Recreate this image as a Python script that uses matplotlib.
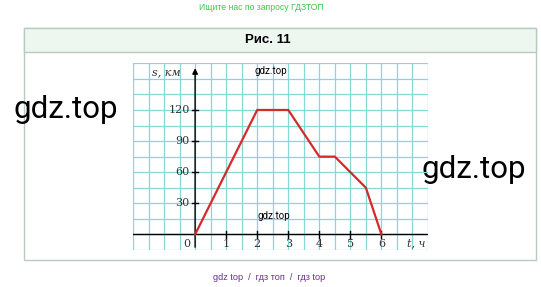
import matplotlib
matplotlib.use("Agg")
import matplotlib.pyplot as plt
from matplotlib.patches import Rectangle
import numpy as np

# ---------- data ----------
t_hours = [0, 2, 3, 4, 4.5, 5.5, 6]
s_km = [0, 120, 120, 75, 75, 45, 0]
x_ticks = [1, 2, 3, 4, 5, 6]
y_ticks = [30, 60, 90, 120]

W, H = 541, 287
fig = plt.figure(figsize=(W / 100, H / 100), dpi=100)

# background layer in pixel coords (y down)
bg = fig.add_axes([0, 0, 1, 1])
bg.set_xlim(0, W)
bg.set_ylim(H, 0)
bg.axis("off")

bg.add_patch(Rectangle((24, 28), 512, 232, facecolor="white", edgecolor="#b9cabf", lw=1))
bg.add_patch(Rectangle((24, 28), 512, 24, facecolor="#eef6f0", edgecolor="#b9cabf", lw=1))
bg.text(268, 40, "Рис. 11", ha="center", va="center", fontsize=9.5, fontweight="bold",
        family="Liberation Sans")
bg.text(261, 7, "Ищите нас по запросу ГДЗТОП", ha="center", va="center", fontsize=6.2,
        color="#3cc84a", family="Liberation Sans")
bg.text(269, 277, "gdz top  /  гдз топ  /  гдз top", ha="center", va="center", fontsize=6.6,
        color="#6a2c8c", family="Liberation Sans")
bg.text(66, 110, "gdz.top", ha="center", va="center", fontsize=22.5, family="Roboto")
bg.text(474, 169, "gdz.top", ha="center", va="center", fontsize=22.5, family="Roboto")

# chart area
x0, x1, y0, y1 = -2, 7.5, -15, 165
px_l, px_r, px_t, px_b = 133, 428, 63.3, 250
ax = fig.add_axes([px_l / W, (H - px_b) / H, (px_r - px_l) / W, (px_b - px_t) / H])
ax.set_xlim(x0, x1)
ax.set_ylim(y0, y1)
ax.axis("off")

grid_c = "#86d8d8"
for gx in np.arange(x0, x1 + 0.01, 0.5):
    ax.axvline(gx, color=grid_c, lw=0.9, zorder=1)
for gy in np.arange(y0, y1 + 0.01, 15):
    ax.axhline(gy, color=grid_c, lw=0.9, zorder=1)

# axes
ax.plot([x0, x1], [0, 0], color="black", lw=1, zorder=3)
ax.annotate("", xy=(0, 163), xytext=(0, y0),
            arrowprops=dict(arrowstyle="-|>", color="black", lw=1, mutation_scale=8), zorder=3)
for xt in x_ticks:
    ax.plot([xt, xt], [-3.5, 3.5], color="black", lw=1, zorder=3)
    ax.text(xt, -4, str(xt), ha="center", va="top", fontsize=8, family="DejaVu Serif",
            color="#333333")
for yt in y_ticks:
    ax.plot([-0.1, 0.1], [yt, yt], color="black", lw=1, zorder=3)
    ax.text(-0.17, yt, str(yt), ha="right", va="center", fontsize=8, family="DejaVu Serif",
            color="#333333")
ax.text(-0.15, -4, "0", ha="right", va="top", fontsize=8, family="DejaVu Serif", color="#333333")
ax.text(-0.47, 156, "s, км", ha="right", va="center", fontsize=8, family="DejaVu Serif",
        style="italic", color="#333333")
ax.text(7.4, -4, "t, ч", ha="right", va="top", fontsize=8, family="DejaVu Serif",
        style="italic", color="#333333")

ax.plot(t_hours, s_km, color="#d42a2a", lw=1.6, zorder=4)

ax.text(2.45, 158, "gdz.top", ha="center", va="center", fontsize=7, family="Roboto", zorder=5)
ax.text(2.55, 18, "gdz.top", ha="center", va="center", fontsize=7, family="Roboto", zorder=5)

fig.savefig("out.png", dpi=100)
